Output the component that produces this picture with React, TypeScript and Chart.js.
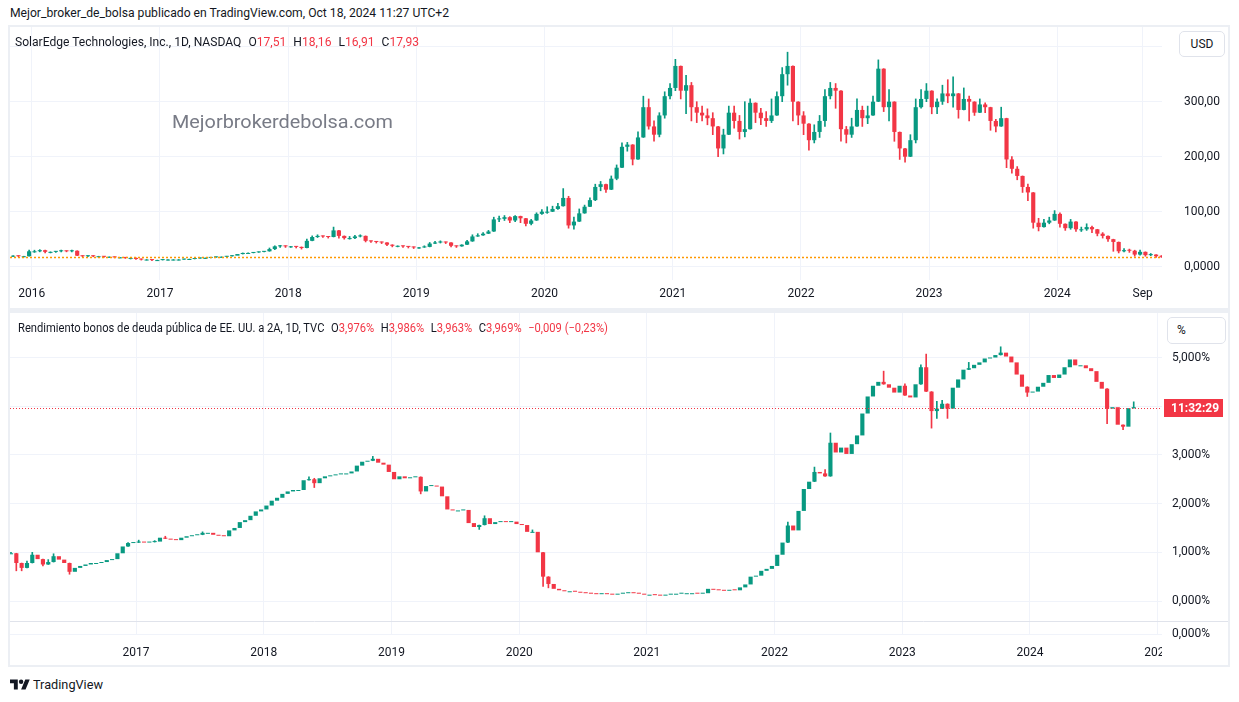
import React, { useEffect, useLayoutEffect, useRef } from "react";
import { Chart, registerables } from "chart.js";

Chart.register(...registerables);

const _ = null;

// ---------- texts ----------
const headerText = "Mejor_broker_de_bolsa publicado en TradingView.com, Oct 18, 2024 11:27 UTC+2";
const ohlcKeys = ["O", "H", "L", "C"];
const topTitle = "SolarEdge Technologies, Inc., 1D, NASDAQ";
const topOhlcValues = ["17,51", "18,16", "16,91", "17,93"];
const bottomTitle = "Rendimiento bonos de deuda pública de EE. UU. a 2A, 1D, TVC";
const bottomOhlcValues = ["3,976%", "3,986%", "3,963%", "3,969%"];
const bottomChange = "−0,009 (−0,23%)";
const watermarkText = "Mejorbrokerdebolsa.com";
const footerText = "TradingView";
const topUnit = "USD";
const bottomUnit = "%";
const countdownText = "11:32:29";
const subPaneLabel = "0,000%";

// ---------- top pane data (SolarEdge, half-month candles from Nov 2015) ----------
const topStartYear = 2015 + 10 / 12;
const topCloses = [
  20, 19, 19, 28,
  28, 30, 27, 27, 28, 29, 28, 29, 20, 19, 20, 19, 19, 18, 18, 17, 17, 16, 16, 14, 13, 13, 12, 12,
  13, 13, 13, 13, 14, 14, 15, 16, 16, 17, 18, 18, 19, 20, 23, 25, 25, 26, 27, 28, 32, 37, 38, 37,
  37, 36, 34, 47, 54, 56, 55, 54, 66, 56, 52, 52, 55, 56, 47, 46, 45, 44, 40, 38, 38, 37, 36, 35,
  35, 36, 42, 44, 45, 44, 38, 37, 40, 46, 55, 57, 60, 64, 86, 87, 90, 84, 92, 88, 78, 84, 96, 100,
  100, 105, 110, 125, 75, 82, 97, 109, 121, 145, 150, 140, 160, 180, 218, 222, 195, 235, 290, 255, 240, 275, 310, 325,
  365, 320, 330, 290, 280, 275, 270, 255, 215, 240, 280, 265, 245, 250, 298, 280, 270, 265, 275, 310, 350, 365, 300, 275,
  260, 230, 245, 265, 310, 325, 320, 250, 240, 255, 285, 270, 275, 300, 360, 290, 300, 245, 215, 200, 230, 290, 305, 320,
  290, 300, 315, 310, 315, 285, 305, 300, 280, 295, 290, 265, 255, 270, 195, 178, 165, 145, 135, 80, 72, 80, 84, 96,
  78, 70, 82, 68, 68, 72, 68, 60, 56, 50, 45, 28, 30, 29, 22, 27, 21, 22, 19, 18,
];
const topHighs = [
  _, _, _, 30,
  30, 31, 30, _, _, 30, _, 30, 29, _, _, _, _, _, _, _, _, _, _, _, _, _, _, _,
  _, _, _, _, _, _, _, _, _, _, _, _, _, _, _, _, _, _, _, _, 34, 38, 39, _,
  _, _, _, 50, 56, 58, _, _, 72, _, _, 55, 57, 58, _, _, _, _, _, _, _, _, _, _,
  _, 38, 44, 46, 47, _, _, _, _, 48, 58, 60, 62, 66, 90, 92, 93, 91, 93, 92, 86, 86, 98, 104,
  109, 110, 115, 142, 128, 90, 105, 112, 125, 150, 155, 150, 165, 185, 225, 226, 220, 245, 310, 305, 265, 280, 318, 333,
  377, 345, 348, 335, 300, 292, 287, 280, 250, 250, 292, 292, 275, 300, 305, 295, 288, 282, 305, 318, 362, 390, 345, 295,
  282, 245, 258, 275, 322, 335, 333, 310, 255, 270, 305, 292, 292, 310, 376, 330, 322, 260, 235, 215, 240, 305, 322, 333,
  320, 305, 330, 340, 345, 305, 325, 310, 300, 305, 298, 282, 268, 290, 262, 200, 182, 165, 150, 135, 88, 86, 90, 102,
  98, 78, 86, 82, 72, 78, 74, 68, 62, 56, 50, 33, 33, 32, 30, 30, 25, 24, 22, 20,
];
const topLows = [
  18, 18, 18, _,
  26, 27, 25, 25, 26, 27, 27, 27, _, 18, 18, 18, 18, 17, 17, 16, 16, 15, 14, 13, 12, 12, 11, 11,
  12, 12, 12, 12, 13, 13, 14, 15, 15, 16, 17, 17, 18, 19, _, 23, 24, 25, 26, 27, _, 31, 35, 35,
  35, 34, 32, _, 47, 53, 53, 52, _, 52, 50, 50, 51, 54, 45, 44, 43, 42, 38, 36, 36, 35, 34, 33,
  33, 35, _, 42, 43, 42, 36, 35, 37, _, 53, 55, 58, 60, _, 82, 84, 80, 82, 80, 74, 76, _, 95,
  97, 100, 104, 118, 70, 68, 92, 100, 115, 120, 138, 135, 140, 158, 180, 210, 185, 195, 235, 250, 228, 236, 270, 305,
  320, 305, 278, 265, 262, 265, 258, 240, 200, 205, 240, 252, 232, 236, 265, 262, 258, 255, 262, 275, 300, 330, 265, 258,
  240, 212, 225, 235, 255, 305, 288, 228, 225, 235, 262, 255, 260, 275, 300, 282, 265, 228, 195, 190, 205, 225, 288, 300,
  278, 278, 295, 298, 290, 270, 285, 265, 275, 285, 280, 248, 245, 255, 180, 170, 158, 135, 120, 70, 65, 72, 78, 88,
  72, 66, 68, 64, 64, 66, 62, 56, 52, 46, 28, 25, 27, 26, 19, 21, 19, 20, 17, 17,
];
const topLastClose = 17.93;
const topXTickValues = [2016, 2017, 2018, 2019, 2020, 2021, 2022, 2023, 2024, 2024 + 8 / 12];
const topXTickLabels = ["2016", "2017", "2018", "2019", "2020", "2021", "2022", "2023", "2024", "Sep"];
const topYTickValues = [0, 100, 200, 300, 400];
const topYTickLabels = ["0,0000", "100,00", "200,00", "300,00", ""];

// ---------- bottom pane data (US 2Y yield, half-month candles from Jan 2016) ----------
const bottomStartYear = 2016;
const bottomCloses = [
  0.98, 0.78, 0.68, 0.78, 0.95, 0.86, 0.75, 0.8, 0.92, 0.85, 0.78, 0.6, 0.68, 0.72, 0.75, 0.78, 0.78, 0.8, 0.84, 0.86, 0.98, 1.12, 1.19, 1.2,
  1.22, 1.2, 1.21, 1.22, 1.3, 1.28, 1.26, 1.25, 1.3, 1.33, 1.35, 1.36, 1.4, 1.4, 1.36, 1.34, 1.33, 1.45, 1.5, 1.62, 1.66, 1.75, 1.84, 1.88,
  1.96, 2.06, 2.12, 2.2, 2.25, 2.28, 2.28, 2.48, 2.5, 2.42, 2.52, 2.56, 2.58, 2.6, 2.62, 2.62, 2.66, 2.78, 2.86, 2.88, 2.92, 2.84, 2.8, 2.65,
  2.5, 2.56, 2.52, 2.54, 2.55, 2.25, 2.36, 2.37, 2.35, 2.15, 1.88, 1.86, 1.86, 1.87, 1.6, 1.52, 1.56, 1.7, 1.58, 1.62, 1.64, 1.62, 1.63, 1.58,
  1.56, 1.42, 1.42, 1.0, 0.5, 0.35, 0.25, 0.22, 0.2, 0.2, 0.19, 0.17, 0.16, 0.15, 0.14, 0.15, 0.14, 0.13, 0.15, 0.16, 0.17, 0.16, 0.15, 0.13,
  0.13, 0.12, 0.11, 0.13, 0.15, 0.15, 0.16, 0.16, 0.16, 0.15, 0.16, 0.25, 0.23, 0.22, 0.21, 0.23, 0.22, 0.28, 0.34, 0.5, 0.52, 0.62, 0.66, 0.72,
  0.95, 1.2, 1.55, 1.45, 1.85, 2.3, 2.45, 2.65, 2.62, 2.56, 3.25, 3.05, 3.15, 3.02, 3.22, 3.4, 3.85, 4.2, 4.42, 4.5, 4.45, 4.38, 4.28, 4.42,
  4.22, 4.18, 4.45, 4.8, 4.3, 3.9, 3.95, 4.05, 3.95, 4.38, 4.55, 4.75, 4.78, 4.85, 4.9, 4.98, 5.0, 5.05, 5.1, 5.02, 4.9, 4.65, 4.4, 4.28,
  4.3, 4.4, 4.48, 4.64, 4.58, 4.65, 4.8, 4.96, 4.84, 4.84, 4.78, 4.72, 4.5, 4.36, 3.95, 3.98, 3.62, 3.58, 3.96, 3.97,
];
const bottomHighs = [
  1.0, _, _, 0.82, 1.0, _, _, 0.85, 0.97, _, _, _, _, _, _, _, _, _, _, _, _, _, 1.2, _,
  1.25, _, _, 1.24, _, 1.33, _, _, _, _, _, _, 1.42, _, _, _, _, _, _, _, _, _, _, _,
  _, _, _, _, _, _, _, _, 2.55, 2.52, _, _, _, _, _, _, _, _, _, _, 2.97, _, _, _,
  _, _, _, _, _, _, _, _, _, _, _, _, _, _, _, _, _, 1.75, _, _, _, _, _, _,
  _, _, 1.46, _, _, _, _, _, _, _, _, _, _, _, _, _, _, _, _, _, _, _, _, _,
  _, _, _, _, _, _, _, _, _, _, _, _, _, _, _, _, _, _, _, _, _, _, _, _,
  _, _, 1.62, _, _, _, _, 2.75, _, 2.7, 3.45, _, _, _, _, _, _, _, _, _, 4.72, _, _, _,
  4.46, _, _, 4.85, 5.07, _, 4.1, 4.12, _, _, _, _, 4.9, _, _, _, _, _, 5.22, _, _, _, _, _,
  _, _, _, _, _, _, _, _, _, _, _, _, _, _, _, _, _, _, _, 4.09,
];
const bottomLows = [
  _, 0.62, 0.62, _, _, _, 0.72, _, _, _, _, 0.55, _, _, _, _, _, _, _, _, _, _, _, _,
  _, _, _, _, _, _, _, _, _, _, _, _, _, _, _, _, _, _, _, _, _, _, _, _,
  _, _, _, _, _, _, _, _, _, 2.33, _, _, _, _, _, _, _, _, _, _, _, _, _, _,
  _, _, _, _, _, 2.2, _, _, _, _, _, _, _, _, _, _, 1.47, _, _, _, _, _, _, _,
  _, _, _, _, 0.3, 0.27, _, _, _, _, _, _, _, _, _, _, _, _, _, _, _, _, _, _,
  _, _, _, _, _, _, _, _, _, _, _, _, _, _, _, _, _, _, _, _, _, _, _, _,
  _, _, _, _, _, _, _, _, _, _, _, _, _, _, _, _, _, _, _, _, _, _, _, _,
  _, _, _, _, _, 3.55, 3.75, _, 3.75, _, _, _, _, _, _, _, _, _, _, _, _, _, _, 4.2,
  _, _, _, _, _, _, _, _, _, _, _, _, _, _, 3.64, _, _, 3.52, _, _,
];
const bottomLastClose = 3.969;
const bottomXTickValues = [2017, 2018, 2019, 2020, 2021, 2022, 2023, 2024, 2025];
const bottomXTickLabels = ["2017", "2018", "2019", "2020", "2021", "2022", "2023", "2024", "2025"];
const bottomYTickValues = [0, 1, 2, 3, 4, 5];
const bottomYTickLabels = ["0,000%", "1,000%", "2,000%", "3,000%", "4,000%", "5,000%"];

// ---------- styles ----------
const FONT = "Roboto, 'Noto Sans', 'DejaVu Sans', sans-serif";
const UP = "#089981";
const DOWN = "#f23645";
const TEXT = "#131722";
const GRID = "#f0f3fa";
const FRAME = "#eceff4";
const BORDER = "#e0e3eb";

type Bar = { x: number; y: [number, number]; up: boolean };

function buildCandles(start: number, closes: number[], highs: (number | null)[], lows: (number | null)[]) {
  const bodies: Bar[] = [];
  const wicks: Bar[] = [];
  closes.forEach((c, i) => {
    const o = i === 0 ? c : closes[i - 1];
    const x = start + (i + 0.5) / 24;
    const up = c >= o;
    const top = Math.max(o, c);
    const bot = Math.min(o, c);
    bodies.push({ x, y: [bot, top], up });
    const h = highs[i];
    const l = lows[i];
    if (h != null || l != null) {
      const wh = h != null ? Math.max(h, top) : top;
      const wl = l != null ? Math.min(l, bot) : bot;
      wicks.push({ x, y: [wl, wh], up });
    }
  });
  return { bodies, wicks };
}

type PaneCfg = {
  start: number;
  closes: number[];
  highs: (number | null)[];
  lows: (number | null)[];
  xMin: number;
  xMax: number;
  xTicks: number[];
  xLabels: string[];
  yMin: number;
  yMax: number;
  yTicks: number[];
  yLabels: string[];
  yAxisWidth: number;
  yPadding: number;
  xAxisHeight: number;
  xPadding: number;
  plugins: any[];
};

function makeChart(canvas: HTMLCanvasElement, cfg: PaneCfg) {
  const { bodies, wicks } = buildCandles(cfg.start, cfg.closes, cfg.highs, cfg.lows);
  return new Chart(canvas, {
    type: "bar",
    data: {
      datasets: [
        {
          data: bodies as any,
          backgroundColor: bodies.map((c) => (c.up ? UP : DOWN)),
          borderWidth: 0,
          barPercentage: 1,
          categoryPercentage: 0.78,
          minBarLength: 1,
          grouped: false,
        } as any,
        {
          data: wicks as any,
          backgroundColor: wicks.map((c) => (c.up ? UP : DOWN)),
          borderWidth: 0,
          barThickness: 1,
          grouped: false,
        } as any,
      ],
    },
    options: {
      responsive: false,
      animation: false,
      events: [],
      layout: { padding: 0 },
      plugins: { legend: { display: false }, tooltip: { enabled: false } },
      scales: {
        x: {
          type: "linear",
          min: cfg.xMin,
          max: cfg.xMax,
          offset: false,
          grid: { color: GRID, lineWidth: 1, drawTicks: false, offset: false } as any,
          border: { display: false },
          ticks: {
            autoSkip: false,
            maxRotation: 0,
            color: TEXT,
            font: { family: FONT, size: 12 },
            padding: cfg.xPadding,
            callback: (v: any) => {
              const i = cfg.xTicks.indexOf(Number(v));
              return i >= 0 ? cfg.xLabels[i] : "";
            },
          },
          afterBuildTicks: (s: any) => {
            s.ticks = cfg.xTicks.map((v) => ({ value: v }));
          },
          afterFit: (s: any) => {
            s.height = cfg.xAxisHeight;
            s.paddingLeft = 0;
            s.paddingRight = 0;
            s.paddingTop = 0;
            s.paddingBottom = 0;
          },
        },
        y: {
          type: "linear",
          position: "right",
          min: cfg.yMin,
          max: cfg.yMax,
          grid: { color: GRID, lineWidth: 1, drawTicks: false },
          border: { display: false },
          ticks: {
            color: TEXT,
            font: { family: FONT, size: 12 },
            padding: cfg.yPadding,
            crossAlign: "near",
            callback: (v: any) => {
              const i = cfg.yTicks.indexOf(Number(v));
              return i >= 0 ? cfg.yLabels[i] : "";
            },
          },
          afterBuildTicks: (s: any) => {
            s.ticks = cfg.yTicks.map((v) => ({ value: v }));
          },
          afterFit: (s: any) => {
            s.width = cfg.yAxisWidth;
            s.paddingLeft = 0;
            s.paddingRight = 0;
            s.paddingTop = 0;
            s.paddingBottom = 0;
          },
        },
      },
    } as any,
    plugins: cfg.plugins,
  });
}

function priceLinePlugin(id: string, value: number, color: string, dash: number[], width: number) {
  return {
    id,
    afterDatasetsDraw(chart: any) {
      const { ctx, chartArea } = chart;
      const y = Math.round(chart.scales.y.getPixelForValue(value)) + 0.5;
      ctx.save();
      ctx.strokeStyle = color;
      ctx.lineWidth = width;
      ctx.setLineDash(dash);
      ctx.beginPath();
      ctx.moveTo(chartArea.left, y);
      ctx.lineTo(chartArea.right, y);
      ctx.stroke();
      ctx.restore();
    },
  };
}

const bottomExtrasPlugin = {
  id: "bottomExtras",
  afterDraw(chart: any) {
    const { ctx, chartArea } = chart;
    const w = chart.width;
    ctx.save();
    ctx.fillStyle = "#fff";
    ctx.fillRect(chartArea.right, chartArea.bottom, w - chartArea.right, chart.height - chartArea.bottom);
    const sepY = Math.round(chartArea.bottom - 14) + 0.5;
    ctx.strokeStyle = BORDER;
    ctx.lineWidth = 1;
    ctx.beginPath();
    ctx.moveTo(0, sepY);
    ctx.lineTo(w, sepY);
    ctx.stroke();
    ctx.strokeStyle = GRID;
    ctx.beginPath();
    ctx.moveTo(chartArea.left, chartArea.bottom - 0.5);
    ctx.lineTo(chartArea.right, chartArea.bottom - 0.5);
    ctx.stroke();
    ctx.fillStyle = TEXT;
    ctx.font = `12px ${FONT}`;
    ctx.textAlign = "left";
    ctx.textBaseline = "middle";
    ctx.fillText(subPaneLabel, chartArea.right + 10, chartArea.bottom - 1);
    const y = Math.round(chart.scales.y.getPixelForValue(bottomLastClose));
    ctx.fillStyle = DOWN;
    ctx.fillRect(chartArea.right + 2, y - 9, 59, 18);
    ctx.fillStyle = "#fff";
    ctx.font = `bold 12px ${FONT}`;
    ctx.fillText(countdownText, chartArea.right + 9, y + 0.5);
    ctx.restore();
  },
};

const topCfg: PaneCfg = {
  start: topStartYear,
  closes: topCloses,
  highs: topHighs,
  lows: topLows,
  xMin: 2015.83,
  xMax: 2024.817,
  xTicks: topXTickValues,
  xLabels: topXTickLabels,
  yMin: -24.2,
  yMax: 435.8,
  yTicks: topYTickValues,
  yLabels: topYTickLabels,
  yAxisWidth: 66,
  yPadding: 22,
  xAxisHeight: 28,
  xPadding: 7,
  plugins: [priceLinePlugin("topPriceLine", topLastClose, "#ff9800", [2, 2], 1.5)],
};

const bottomCfg: PaneCfg = {
  start: bottomStartYear,
  closes: bottomCloses,
  highs: bottomHighs,
  lows: bottomLows,
  xMin: 2016.013,
  xMax: 2025.034,
  xTicks: bottomXTickValues,
  xLabels: bottomXTickLabels,
  yMin: -0.698,
  yMax: 5.914,
  yTicks: bottomYTickValues,
  yLabels: bottomYTickLabels,
  yAxisWidth: 66,
  yPadding: 10,
  xAxisHeight: 30,
  xPadding: 11,
  plugins: [priceLinePlugin("bottomPriceLine", bottomLastClose, DOWN, [1, 2], 1), bottomExtrasPlugin],
};

function Pane(props: { left: number; top: number; width: number; height: number; cfg: PaneCfg }) {
  const ref = useRef<HTMLCanvasElement>(null);
  useEffect(() => {
    if (!ref.current) return;
    const chart = makeChart(ref.current, props.cfg);
    return () => chart.destroy();
  }, []);
  return (
    <canvas
      ref={ref}
      width={props.width}
      height={props.height}
      style={{ position: "absolute", left: props.left, top: props.top, width: props.width, height: props.height }}
    />
  );
}

function FitText(props: {
  left: number;
  top: number;
  width: number;
  height: number;
  size: number;
  color?: string;
  children: React.ReactNode;
}) {
  const ref = useRef<HTMLDivElement>(null);
  useLayoutEffect(() => {
    const el = ref.current;
    if (!el) return;
    el.style.transform = "none";
    const w = el.getBoundingClientRect().width;
    if (w > 0) el.style.transform = `scaleX(${props.width / w})`;
  }, []);
  return (
    <div
      ref={ref}
      style={{
        position: "absolute",
        left: props.left,
        top: props.top,
        height: props.height,
        lineHeight: `${props.height}px`,
        fontSize: props.size,
        color: props.color || TEXT,
        whiteSpace: "nowrap",
        transformOrigin: "left center",
      }}
    >
      {props.children}
    </div>
  );
}

function Legend(props: { title: string; values: string[]; extra?: string }) {
  return (
    <>
      <span>{props.title}</span>
      {ohlcKeys.map((k, i) => (
        <span key={k} style={{ marginLeft: 7 }}>
          {k}
          <span style={{ color: DOWN }}>{props.values[i]}</span>
        </span>
      ))}
      {props.extra ? <span style={{ marginLeft: 7, color: DOWN }}>{props.extra}</span> : null}
    </>
  );
}

export default function App() {
  return (
    <div
      style={{
        position: "fixed",
        left: 0,
        top: 0,
        width: 1239,
        height: 702,
        background: "#fff",
        fontFamily: FONT,
        color: TEXT,
        overflow: "hidden",
      }}
    >
      <FitText left={10} top={5} width={439} height={16} size={12}>
        {headerText}
      </FitText>

      <div style={{ position: "absolute", left: 8, top: 25, width: 1222, height: 642, background: FRAME }} />
      <div style={{ position: "absolute", left: 10, top: 27, width: 1218, height: 281, background: "#fff" }} />
      <div style={{ position: "absolute", left: 10, top: 313, width: 1218, height: 352, background: "#fff" }} />

      <Pane left={10} top={27} width={1218} height={281} cfg={topCfg} />
      <Pane left={10} top={313} width={1218} height={352} cfg={bottomCfg} />

      <FitText left={15} top={34} width={404} height={16} size={12}>
        <Legend title={topTitle} values={topOhlcValues} />
      </FitText>
      <FitText left={18} top={320} width={590} height={16} size={12}>
        <Legend title={bottomTitle} values={bottomOhlcValues} extra={bottomChange} />
      </FitText>

      <FitText left={172} top={109} width={221} height={26} size={19} color="#787b86">
        {watermarkText}
      </FitText>

      <div
        style={{
          position: "absolute",
          left: 1179,
          top: 31,
          width: 44,
          height: 24,
          border: `1px solid ${BORDER}`,
          borderRadius: 5,
          background: "#fff",
          fontSize: 12,
          lineHeight: "24px",
          textAlign: "center",
        }}
      >
        {topUnit}
      </div>
      <div
        style={{
          position: "absolute",
          left: 1167,
          top: 317,
          width: 57,
          height: 25,
          border: `1px solid ${BORDER}`,
          borderRadius: 5,
          background: "#fff",
          fontSize: 12,
          lineHeight: "25px",
        }}
      >
        <span style={{ marginLeft: 9 }}>{bottomUnit}</span>
      </div>

      <svg style={{ position: "absolute", left: 10, top: 677 }} width={20} height={16} viewBox="0 0 36 28">
        <path d="M14 22H7V11H0V4h14v18zM28 22h-8l7.5-18h8L28 22z" fill={TEXT} />
        <circle cx="20" cy="8" r="4" fill={TEXT} />
      </svg>
      <FitText left={33} top={676} width={70} height={18} size={13}>
        {footerText}
      </FitText>
    </div>
  );
}
